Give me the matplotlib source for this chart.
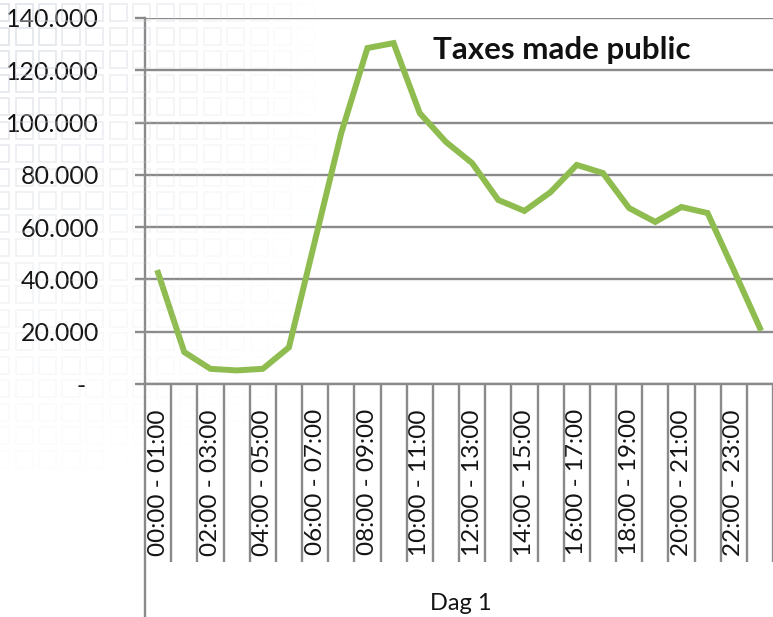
import matplotlib
matplotlib.use('Agg')
import matplotlib.pyplot as plt
from matplotlib.patches import Rectangle
from matplotlib.lines import Line2D
from matplotlib.ticker import FixedLocator, FuncFormatter

plt.rcParams['font.family'] = ['Lato', 'DejaVu Sans']

# hourly intervals for the first day
hours = ['%02d:00 - %02d:00' % (h, h + 1) for h in range(24)]
taxes = [42500, 12200, 5800, 5200, 5800, 14000, 55000, 96000,
         128500, 130400, 103600, 92600, 84500, 70400, 66200, 73400,
         83800, 80700, 67300, 62000, 67700, 65400, 43600, 21400]
y_ticks = [0, 20000, 40000, 60000, 80000, 100000, 120000, 140000]
title = 'Taxes made public'
group_label = 'Dag 1'

W, H = 773, 617
fig = plt.figure(figsize=(W / 100, H / 100), dpi=100)
fig.patch.set_facecolor('white')

# faint square pattern of the slide background
for r in range(20):
    for c in range(14):
        px = -8 + c * 23.5
        py = 4 + r * 23.5
        fade = max(0.0, 1 - px / 320) * max(0.0, 1 - py / 480)
        if fade <= 0.02:
            continue
        fig.patches.append(Rectangle((px / W, 1 - (py + 17) / H), 17 / W, 17 / H,
                                     transform=fig.transFigure, fill=False,
                                     edgecolor='#c9cfd8', lw=1.2, alpha=0.6 * fade,
                                     zorder=0))

grid_col = '#8a8a8a'
left, right = 145 / W, 773 / W
bottom, top = (H - 384) / H, (H - 18) / H
ax = fig.add_axes([left, bottom, right - left, top - bottom])
ax.patch.set_alpha(0)

x = list(range(len(hours)))
ax.plot(x, taxes, color='#8fbc4f', lw=4.3, solid_joinstyle='miter', zorder=3)

ax.set_xlim(-0.5, len(hours) - 0.5)
ax.set_ylim(0, 140000)
ax.set_yticks(y_ticks)
ax.yaxis.set_major_formatter(FuncFormatter(
    lambda v, p: '-  ' if v == 0 else f'{int(v):,}'.replace(',', '.')))
ax.yaxis.grid(True, color=grid_col, lw=1.7)
ax.set_axisbelow(True)
ax.tick_params(axis='y', length=7, width=1.7, color=grid_col, pad=26,
               labelsize=18, labelcolor='#141414')

ax.xaxis.set_major_locator(FixedLocator(x[::2]))
ax.set_xticklabels(hours[::2], rotation=90)
ax.xaxis.set_minor_locator(FixedLocator([i + 0.5 for i in range(len(hours))]))
ax.tick_params(axis='x', which='major', length=0, pad=18, labelsize=17.5,
               labelcolor='#141414')
ax.tick_params(axis='x', which='minor', length=128, width=1.7, color=grid_col,
               direction='out')

for s in ['top', 'right']:
    ax.spines[s].set_visible(False)
for s in ['left', 'bottom']:
    ax.spines[s].set_color(grid_col)
    ax.spines[s].set_linewidth(1.7)

# outer group separator on the category axis
fig.lines.append(Line2D([left, left], [0, bottom], transform=fig.transFigure,
                        color=grid_col, lw=1.7))

fig.text(562 / W, 1 - 50 / H, title, ha='center', va='center',
         fontsize=22.5, fontweight='bold', color='#111111')
fig.text(461 / W, 1 - 603 / H, group_label, ha='center', va='center',
         fontsize=17, color='#141414')

fig.savefig('out.png', dpi=100)
